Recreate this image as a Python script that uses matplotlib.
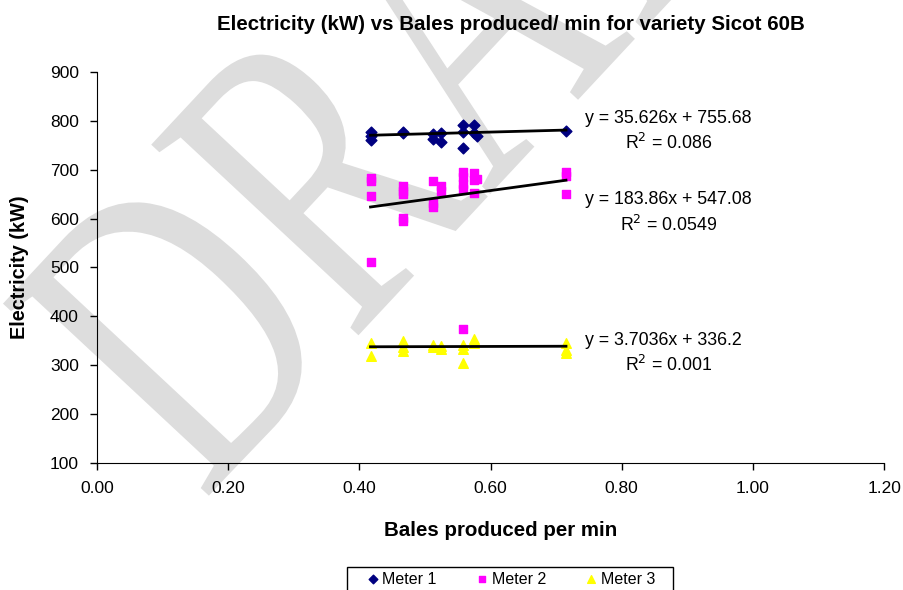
import matplotlib
matplotlib.use("Agg")
import matplotlib.pyplot as plt
import matplotlib.patches as patches
from matplotlib.textpath import TextPath
from matplotlib.font_manager import FontProperties
from matplotlib.transforms import Affine2D
import numpy as np

plt.rcParams['font.family'] = ['Liberation Sans', 'DejaVu Sans']

# data
m1_x = [0.417, 0.417, 0.417, 0.467, 0.467, 0.512, 0.512, 0.525, 0.525,
        0.558, 0.558, 0.558, 0.575, 0.575, 0.579, 0.715]
m1_y = [777, 770, 761, 777, 775, 773, 763, 775, 756,
        792, 777, 744, 792, 775, 768, 780]

m2_x = [0.417, 0.417, 0.417, 0.417, 0.467, 0.467, 0.467, 0.467, 0.467,
        0.512, 0.512, 0.512, 0.525, 0.525, 0.558, 0.558, 0.558, 0.558,
        0.558, 0.575, 0.575, 0.575, 0.579, 0.715, 0.715, 0.715]
m2_y = [683, 677, 647, 511, 667, 657, 650, 602, 596,
        676, 632, 624, 666, 656, 695, 685, 670, 660,
        374, 693, 679, 653, 681, 695, 688, 651]

m3_x = [0.417, 0.417, 0.467, 0.467, 0.467, 0.512, 0.512, 0.525, 0.525,
        0.558, 0.558, 0.558, 0.575, 0.575, 0.715, 0.715, 0.715]
m3_y = [346, 318, 349, 338, 330, 342, 338, 340, 334,
        342, 333, 305, 354, 345, 346, 332, 325]

# trendline coefficients as printed on the chart
slopes = [35.626, 183.86, 3.7036]
intercepts = [755.68, 547.08, 336.2]
eq_labels = ["y = 35.626x + 755.68", "y = 183.86x + 547.08", "y = 3.7036x + 336.2"]
r2_labels = ["R$^2$ = 0.086", "R$^2$ = 0.0549", "R$^2$ = 0.001"]

W, H = 904, 590
fig = plt.figure(figsize=(W / 100, H / 100), dpi=100)
ax = fig.add_axes([0.1073, 0.2153, 0.8707, 0.6627])
ax.set_facecolor('none')

# DRAFT watermark (stretched WordArt style), drawn behind the axes
wm = TextPath((0, 0), "DRAFT", size=430,
              prop=FontProperties(family='Liberation Serif'))
wm_tr = (Affine2D().scale(0.70, 1).rotate_deg(47).translate(203, 88)
         .scale(1 / W, 1 / H) + fig.transFigure)
fig.add_artist(patches.PathPatch(wm, transform=wm_tr, facecolor='#dddddd',
                                 edgecolor='none', zorder=-5))

ax.scatter(m1_x, m1_y, marker='D', s=30, color='#000080', label='Meter 1', zorder=3)
ax.scatter(m2_x, m2_y, marker='s', s=38, color='#ff00ff', label='Meter 2', zorder=3)
ax.scatter(m3_x, m3_y, marker='^', s=48, color='#ffff00', label='Meter 3', zorder=3)

for xs, a, b in zip([m1_x, m2_x, m3_x], slopes, intercepts):
    xl = np.array([min(xs), max(xs)])
    ax.plot(xl, a * xl + b, color='black', lw=2, zorder=4)

eq_y = [804, 638.5, 350]
r2_y = [755, 587, 301]
for i in range(3):
    ax.text(0.744, eq_y[i], eq_labels[i], fontsize=12.8, ha='left', va='center')
    ax.text(0.872, r2_y[i], r2_labels[i], fontsize=12.8, ha='center', va='center')

ax.set_xlim(0, 1.2)
ax.set_ylim(100, 900)
ax.set_xticks(np.arange(0, 1.21, 0.2))
ax.set_xticklabels(["%.2f" % v for v in np.arange(0, 1.21, 0.2)])
ax.set_yticks(range(100, 901, 100))
ax.tick_params(direction='out', length=5, width=1, labelsize=12.5, pad=8)
for s in ['top', 'right']:
    ax.spines[s].set_visible(False)

fig.text(0.565, 0.958, "Electricity (kW) vs Bales produced/ min for variety Sicot 60B",
         ha='center', va='center', fontsize=14.8, fontweight='bold')
fig.text(0.554, 0.101, "Bales produced per min", ha='center', va='center',
         fontsize=14.8, fontweight='bold')
fig.text(0.022, 0.547, "Electricity (kW)", ha='center', va='center',
         fontsize=14.3, fontweight='bold', rotation=90)

# legend, with its box running off the bottom edge
leg = fig.legend(loc='center', bbox_to_anchor=(0.5646, 0.0186), ncol=3,
                 fontsize=11.5, frameon=False, handletextpad=0.15,
                 columnspacing=2.4, borderpad=0, borderaxespad=0,
                 handlelength=0.9, markerscale=0.8)
fig.add_artist(patches.Rectangle((0.3838, -0.05), 0.3606, 0.089, fill=False,
                                 edgecolor='black', linewidth=1,
                                 transform=fig.transFigure))

fig.savefig("out.png", dpi=100)
